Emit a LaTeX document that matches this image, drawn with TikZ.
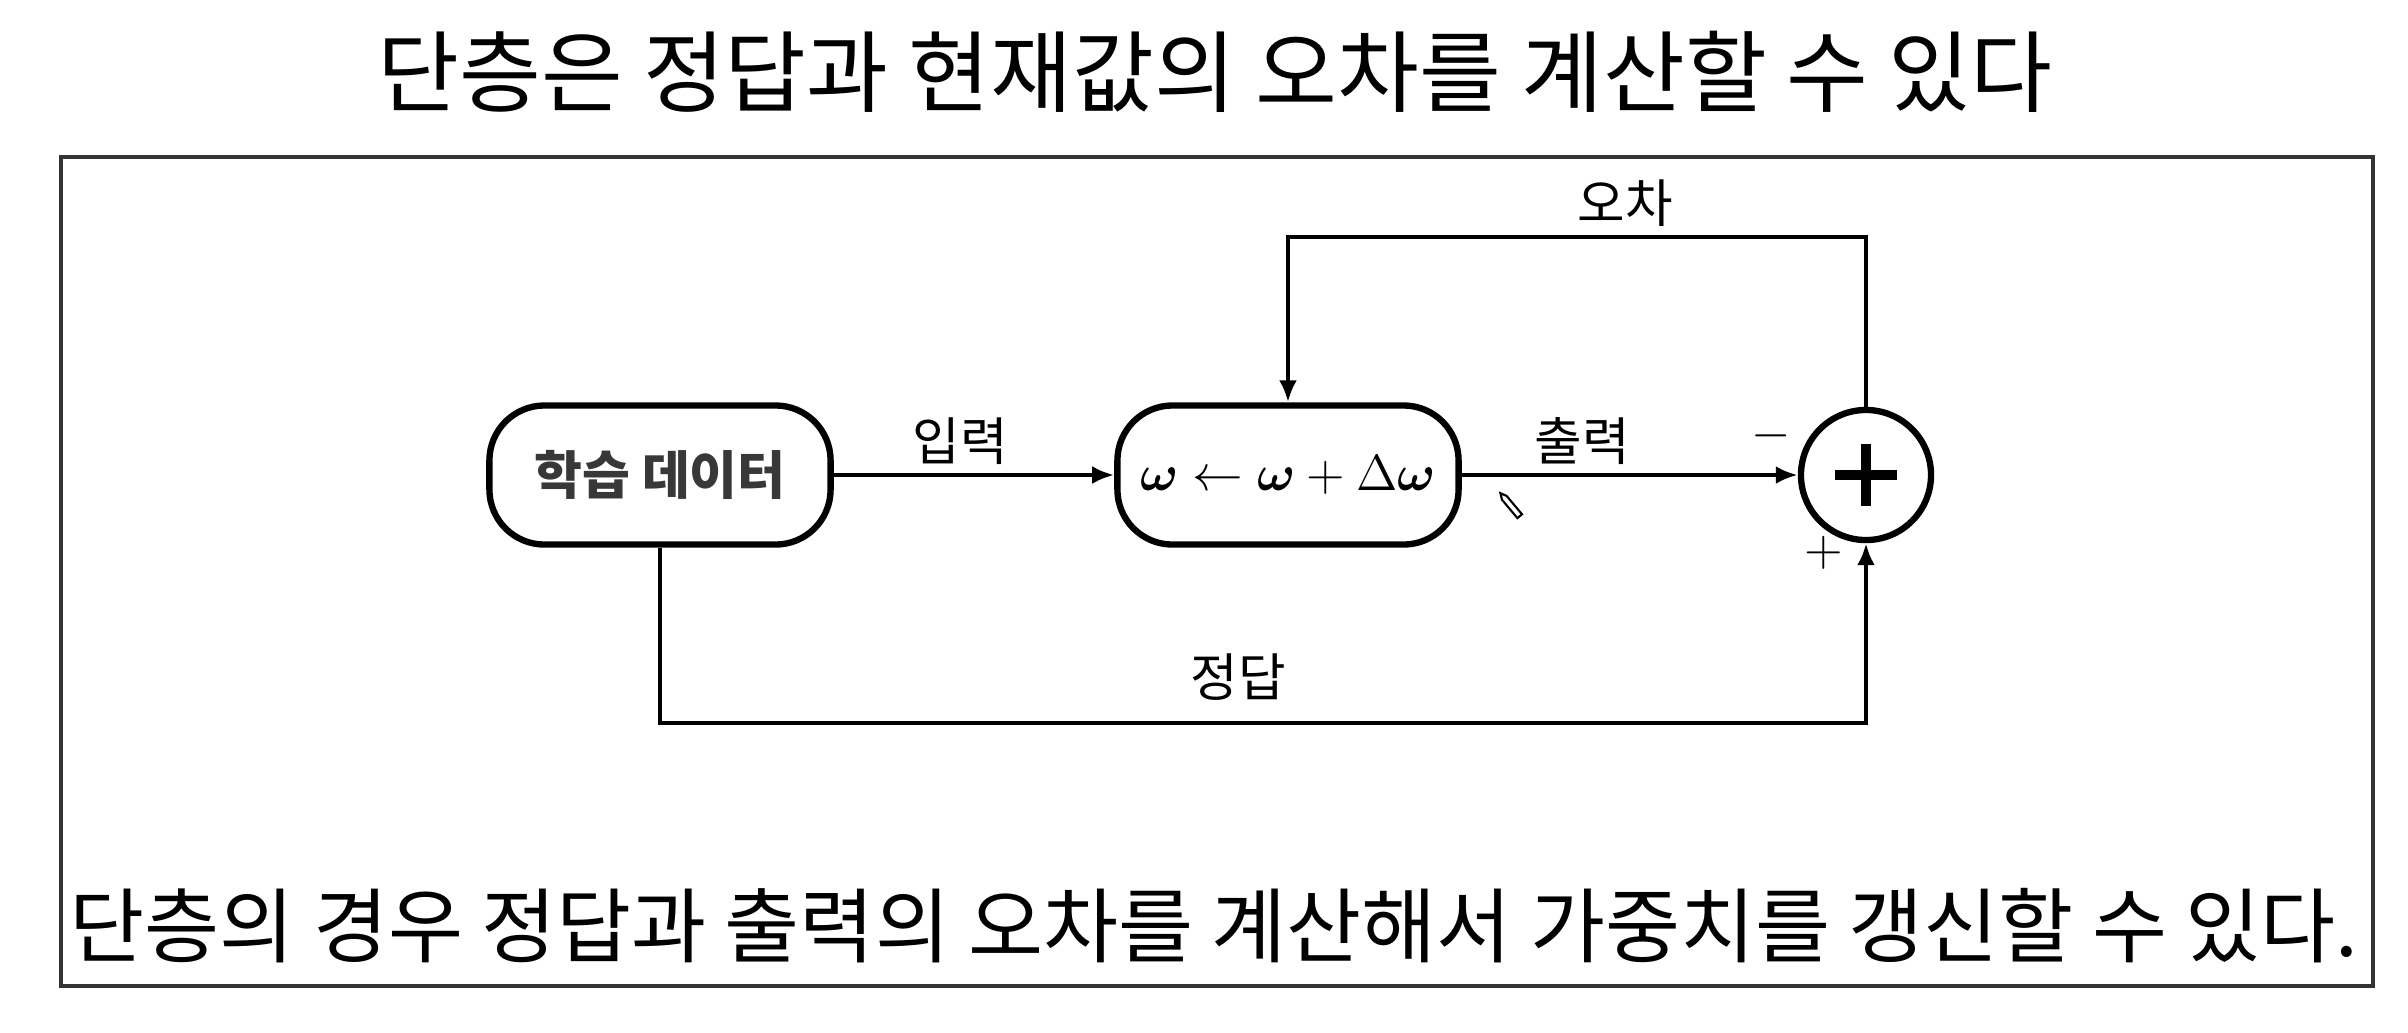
\documentclass[tikz,border=0pt]{standalone}
\usepackage{amsmath}
\usepackage{fontspec}
\setmainfont{Noto Sans CJK KR}
\usetikzlibrary{arrows.meta}
\tikzset{
  stepbox/.style={draw, line width=1.8pt, rounded corners=0.55cm, minimum width=3.41cm, minimum height=1.39cm, fill=white, inner sep=0pt},
  conn/.style={line width=1.3pt, -{Latex[length=0.22cm, width=0.18cm]}},
  lbl/.style={font=\fontsize{14.7}{17}\selectfont, inner sep=0pt},
  sign/.style={font=\fontsize{15}{17}\selectfont, inner sep=0pt},
  bigtext/.style={font=\fontsize{25.3}{30}\selectfont, inner sep=0pt},
  captext/.style={font=\fontsize{23.2}{28}\selectfont, inner sep=0pt},
}
\begin{document}
\begin{tikzpicture}[x=0.01cm, y=-0.01cm]
\useasboundingbox (0,0) rectangle (2408,1032);
\fill[white] (0,0) rectangle (2408,1032);
% title
\node[bigtext] (title) at (1215,72) {단층은 정답과 현재값의 오차를 계산할 수 있다};
% frame
\draw[line width=0.9pt, black!80] (61,157) rectangle (2373,986);
% caption
\node[captext] (cap) at (1214,926) {단층의 경우 정답과 출력의 오차를 계산해서 가중치를 갱신할 수 있다.};
% nodes
\node[stepbox, font=\fontsize{14.8}{17}\selectfont\bfseries, text=black!78] (data) at (660,475) {학습 데이터};
\node[stepbox, font=\fontsize{14.6}{17}\selectfont] (upd) at (1288,475) {$\boldsymbol{\omega} \leftarrow \boldsymbol{\omega} + \Delta\boldsymbol{\omega}$};
\node[draw, circle, line width=1.8pt, minimum size=1.3cm, inner sep=0pt] (sum) at (1866,475) {};
\draw[line width=2.8pt] (1866,444) -- (1866,506) (1835,475) -- (1897,475);
% connectors
\draw[conn] (data.east) -- (upd.west);
\draw[conn] (upd.east) -- (sum.west);
\coordinate (e1) at (1866,237);
\coordinate (e2) at (1288,237);
\draw[conn] (sum.north) -- (e1) -- (e2) -- (upd.north);
\coordinate (t1) at (data.south |- 0,723);
\coordinate (t2) at (1866,723);
\draw[conn] (data.south) -- (t1) -- (t2) -- (sum.south);
% labels
\node[lbl] (in) at (960,441) {입력};
\node[lbl] (out) at (1582,441) {출력};
\node[lbl] (err) at (1625,203) {오차};
\node[lbl] (ans) at (1238,677) {정답};
\node[sign] (minus) at (1771,436) {$-$};
\node[sign] (plus) at (1824,553) {$+$};
% pencil cursor
\draw[line width=0.6pt, rotate around={-50:(1512,507)}] (1500,504) -- (1524,504) -- (1524,510) -- (1500,510) -- (1494,507) -- cycle;
\end{tikzpicture}
\end{document}
